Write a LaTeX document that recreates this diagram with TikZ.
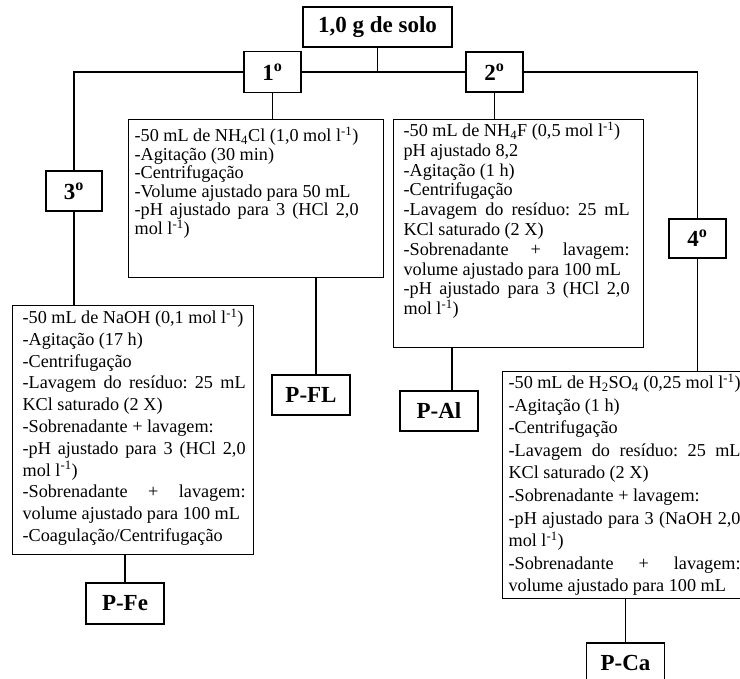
\documentclass[tikz,border=0pt]{standalone}
\usepackage{fontspec}
\setmainfont{Liberation Serif}
\frenchspacing
\newcommand{\infotext}[3]{\parbox[t]{#1}{\fontsize{18.2}{#2}\selectfont\frenchspacing\hyphenpenalty=10000\exhyphenpenalty=10000 #3}}
\tikzset{
	stage/.style={draw, line width=1.2pt, inner sep=0pt, minimum width=57pt, minimum height=40pt, font=\bfseries\fontsize{23}{26}\selectfont},
	info/.style={draw, line width=1.2pt, inner sep=0pt, anchor=north west},
	link/.style={line width=1.6pt}
}
\begin{document}
\begin{tikzpicture}[x=1pt, y=-1pt]

	\useasboundingbox (0,0) rectangle (740,679);
	\clip (0,0) rectangle (740,679);

	\draw (377.5, 27) node (solo) [stage, minimum width=149pt] {1,0 g de solo};

	\draw (272.5, 72) node (first) [stage, minimum height=41pt] {1\textsuperscript{o}};
	\draw (494.5, 72) node (second) [stage] {2\textsuperscript{o}};
	\draw (74, 191) node (third) [stage, minimum width=56pt] {3\textsuperscript{o}};
	\draw (697.5, 238.5) node (fourth) [stage, minimum height=39pt] {4\textsuperscript{o}};

	\coordinate (lefttop) at (74, 72);
	\coordinate (righttop) at (697.5, 72);

	% extraction boxes
	\draw (128, 119) node (nhcl) [info, text height=22pt, text depth=136pt] {\hspace*{6pt}\infotext{224pt}{18.6pt}{%
		-50 mL de NH\textsubscript{4}Cl (1,0 mol l\textsuperscript{-1})\\
		-Agitação (30 min)\\
		-Centrifugação\\
		-Volume ajustado para 50 mL\\
		-pH ajustado para 3 (HCl 2,0\linebreak mol l\textsuperscript{-1})}\hspace*{25pt}};

	\draw (393, 119) node (nhf) [info, text height=17pt, text depth=211pt] {\hspace*{10pt}\infotext{226pt}{19.8pt}{%
		-50 mL de NH\textsubscript{4}F (0,5 mol l\textsuperscript{-1})\\
		pH ajustado 8,2\\
		-Agitação (1 h)\\
		-Centrifugação\\
		-Lavagem do resíduo: 25 mL\linebreak KCl saturado (2 X)\\
		-Sobrenadante + lavagem:\linebreak volume ajustado para 100 mL\\
		-pH ajustado para 3 (HCl 2,0\linebreak mol l\textsuperscript{-1})}\hspace*{14pt}};

	\draw (12, 305) node (naoh) [info, text height=18pt, text depth=231pt] {\hspace*{10pt}\infotext{223pt}{21.8pt}{%
		-50 mL de NaOH (0,1 mol l\textsuperscript{-1})\\
		-Agitação (17 h)\\
		-Centrifugação\\
		-Lavagem do resíduo: 25 mL\linebreak KCl saturado (2 X)\\
		-Sobrenadante + lavagem:\\
		-pH ajustado para 3 (HCl 2,0\linebreak mol l\textsuperscript{-1})\\
		-Sobrenadante + lavagem:\linebreak volume ajustado para 100 mL\\
		-Coagulação/Centrifugação}\hspace*{8pt}};

	\draw (502, 371) node (hso) [info, text height=17pt, text depth=210pt] {\hspace*{6pt}\infotext{232pt}{22.6pt}{%
		-50 mL de H\textsubscript{2}SO\textsubscript{4} (0,25 mol l\textsuperscript{-1})\\
		-Agitação (1 h)\\
		-Centrifugação\\
		-Lavagem do resíduo: 25 mL\linebreak KCl saturado (2 X)\\
		-Sobrenadante + lavagem:\\
		-pH ajustado para 3 (NaOH 2,0\linebreak mol l\textsuperscript{-1})\\
		-Sobrenadante + lavagem:\linebreak volume ajustado para 100 mL}\hspace*{22pt}};

	% fractions
	\draw (311, 395) node (pfl) [stage, minimum width=78pt] {P-FL};
	\draw (439, 411) node (pal) [stage, minimum width=78pt] {P-Al};
	\draw (125, 603.5) node (pfe) [stage, minimum width=78pt, minimum height=41pt] {P-Fe};
	\draw (625.5, 663) node (pca) [stage, minimum width=78pt] {P-Ca};

	% connectors
	\draw [link] (solo.south) -- (solo.south |- first.east);
	\draw [link] (first.east) -- (second.west);
	\draw [link] (first.west) -- (lefttop) -- (third.north);
	\draw [link] (second.east) -- (righttop) -- (fourth.north);
	\draw [link] (first.south) -- (first.south |- nhcl.north);
	\draw [link] (second.south) -- (second.south |- nhf.north);
	\draw [link] (third.south) -- (third.south |- naoh.north);
	\draw [link] (fourth.south) -- (fourth.south |- hso.north);
	\draw [link] ([xshift=5pt]pfl.north) -- ([xshift=5pt]pfl.north |- nhcl.south);
	\draw [link] ([xshift=13pt]pal.north) -- ([xshift=13pt]pal.north |- nhf.south);
	\draw [link] (pfe.north) -- (pfe.north |- naoh.south);
	\draw [link] (pca.north) -- (pca.north |- hso.south);

\end{tikzpicture}
\end{document}
